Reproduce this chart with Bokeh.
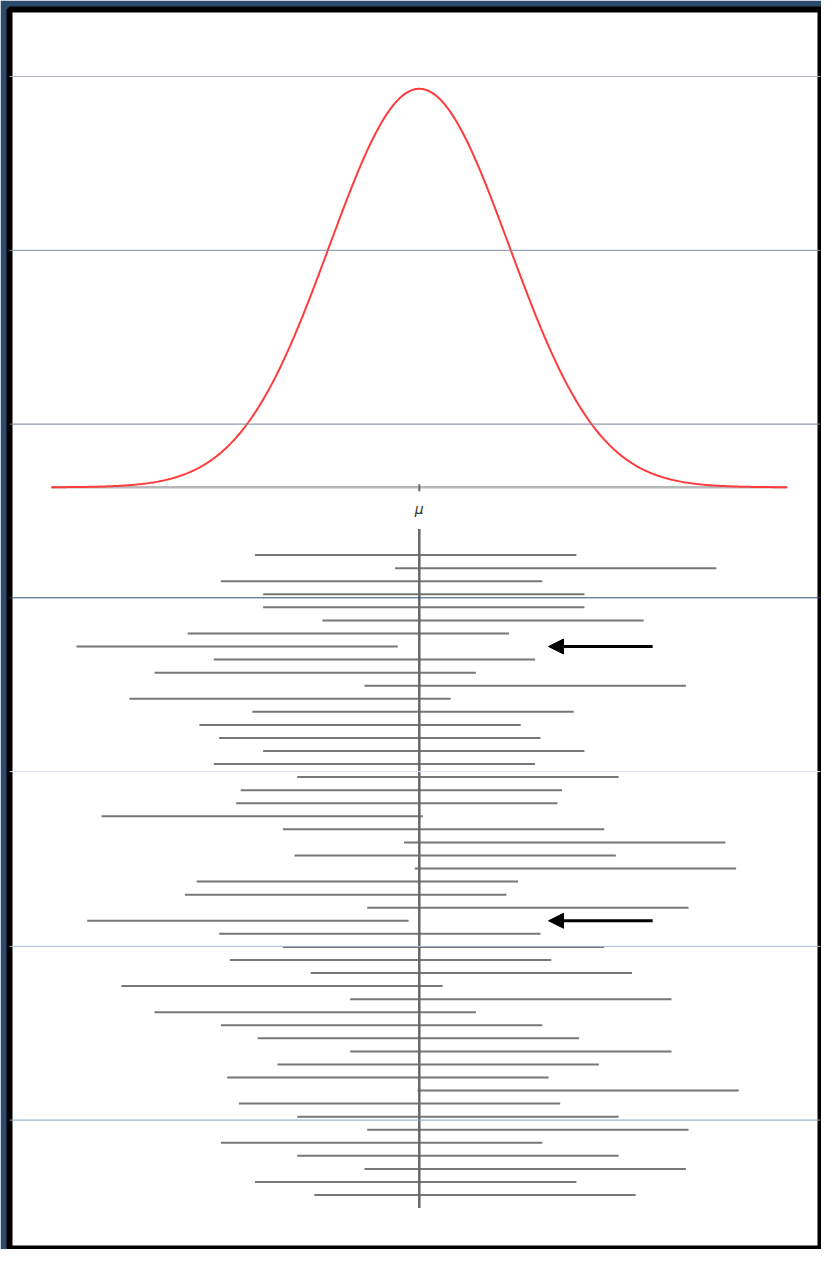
import numpy as np
from bokeh.plotting import figure
from bokeh.models import Range1d, Span, Arrow, NormalHead
from bokeh.core.properties import value
from bokeh.embed import file_html
from bokeh.resources import INLINE

# ---------------- data ----------------
mu = 0.0
sigma = 1.0
curve_extent = 4.1          # curve drawn from mu - 4.1 sigma to mu + 4.1 sigma
half_width = 1.79           # half-width of every interval (sigma units)
mu_label = "μ"
sample_means = [
    -0.04, 1.52, -0.42, 0.05, 0.05, 0.71, -0.79, -2.03, -0.50, -1.16,
    1.18, -1.44, -0.07, -0.66, -0.44, 0.05, -0.50, 0.43, -0.20, -0.25,
    -1.75, 0.27, 1.62, 0.40, 1.74, -0.69, -0.82, 1.21, -1.91, -0.44,
    0.27, -0.32, 0.58, -1.53, 1.02, -1.16, -0.42, -0.01, 1.02, 0.21,
    -0.35, 1.77, -0.22, 0.43, 1.21, -0.42, 0.43, 1.18, -0.04, 0.62,
]

# ---------------- layout ----------------
W, H = 821, 1249
BL, BT, BR, BB = 9, 9, 1, 1
frame_w = W - BL - BR
frame_h = H - BT - BB
px_sigma = 89.75       # pixels per sigma
mu_px = 409.8          # mu position from frame left
base_px = 477.8        # density baseline from frame top
px_per_dens = 999.0    # pixels per density unit
row1_px = 545.6        # first interval row from frame top
row_step = 13.06       # pixels between rows

x_range = Range1d(mu - mu_px / px_sigma * sigma, mu + (frame_w - mu_px) / px_sigma * sigma)
y_range = Range1d(-(frame_h - base_px) / px_per_dens, base_px / px_per_dens)
idx_range = Range1d(1 + (frame_h - row1_px) / row_step, 1 - row1_px / row_step)

p = figure(width=W, height=H, x_range=x_range, y_range=y_range,
           x_axis_type=None, y_axis_type=None, toolbar_location=None,
           output_backend="svg",
           min_border_left=BL, min_border_top=BT, min_border_right=BR, min_border_bottom=BB)
p.extra_y_ranges = {"idx": idx_range}
p.background_fill_color = "white"
p.border_fill_color = "#2a4a6e"
p.outline_line_color = "black"
p.outline_line_width = 6

# horizontal gridlines (frame px from top) with their colours
grid_px = [67.0, 240.8, 414.6, 588.3, 762.1, 936.9, 1110.6]
grid_colors = ["#a9b1bb", "#7f8ca2", "#737f95", "#2f4c78", "#dde5ef", "#a9bcd3", "#86a3c4"]
for gp, gc in zip(grid_px, grid_colors):
    p.add_layout(Span(location=(base_px - gp) / px_per_dens, dimension="width",
                      line_color=gc, line_width=1))

# baseline of the density
p.segment(x0=[mu - curve_extent * sigma], x1=[mu + curve_extent * sigma], y0=[0], y1=[0],
          line_color="#b8b8b8", line_width=2.5)

# normal curve
xs = np.linspace(mu - curve_extent * sigma, mu + curve_extent * sigma, 500)
ys = np.exp(-0.5 * ((xs - mu) / sigma) ** 2) / (sigma * np.sqrt(2 * np.pi))
p.line(xs, ys, line_color="#ff3b3b", line_width=2)

# tick at mu and label
p.segment(x0=[mu], x1=[mu], y0=[-4 / px_per_dens], y1=[3 / px_per_dens],
          line_color="#666666", line_width=2)
p.text(x=[mu], y=[-21.7 / px_per_dens], text=[mu_label], text_align="center",
       text_baseline="middle", text_font_size="14px", text_font=value("DejaVu Sans"),
       text_font_style="italic", text_color="#333333")

# intervals
n = len(sample_means)
rows = list(range(1, n + 1))
lo = [m - half_width for m in sample_means]
hi = [m + half_width for m in sample_means]
p.segment(x0=lo, x1=hi, y0=rows, y1=rows, y_range_name="idx",
          line_color="#777777", line_width=2)

# vertical line at mu
p.segment(x0=[mu], x1=[mu], y0=[-1], y1=[n + 1], y_range_name="idx",
          line_color="#666666", line_width=2.5)

# arrows pointing at intervals that miss mu
for r, a, b in zip(rows, lo, hi):
    if b < mu or a > mu:
        p.add_layout(Arrow(x_start=mu + 2.6 * sigma, x_end=mu + 1.44 * sigma,
                           y_start=r, y_end=r, y_range_name="idx",
                           line_color="black", line_width=3,
                           end=NormalHead(size=15, fill_color="black", line_color="black")))

open("out.html", "w").write(file_html(p, INLINE))
